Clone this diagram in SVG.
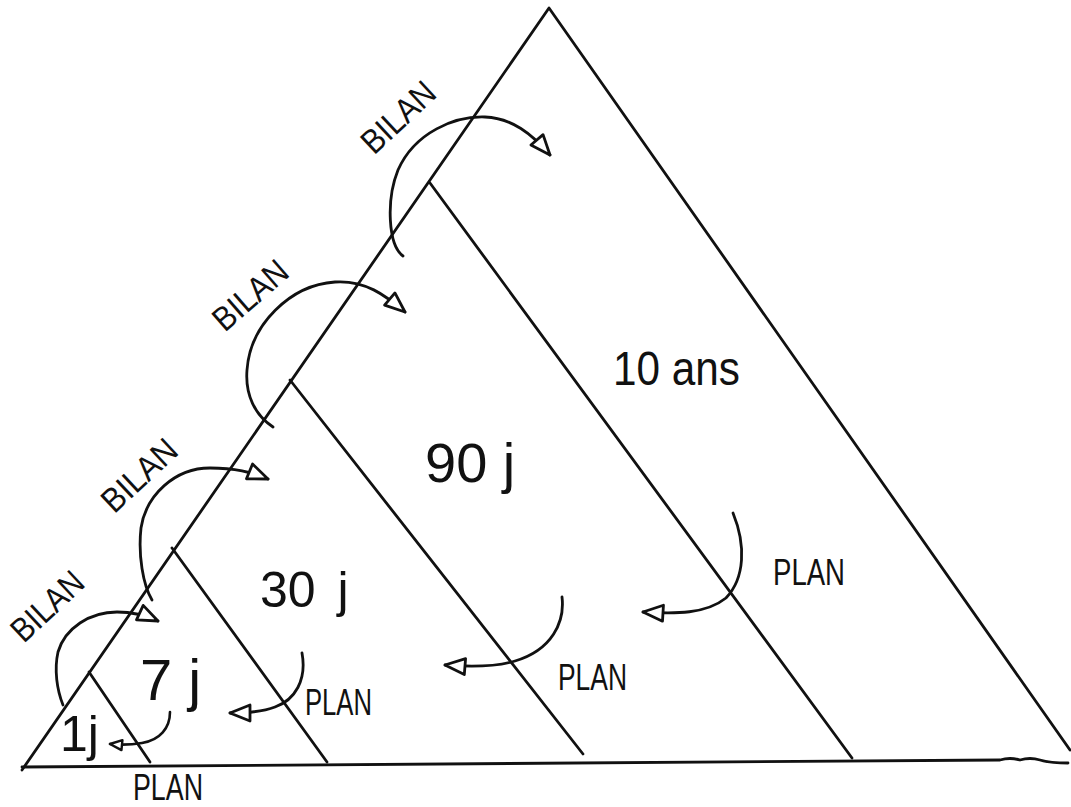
<svg xmlns="http://www.w3.org/2000/svg" width="1071" height="807" viewBox="0 0 1071 807">
<style>
.ln{fill:none;stroke:#111;stroke-width:2.8;stroke-linecap:round;stroke-linejoin:round}
.ar{fill:none;stroke:#111;stroke-width:2.8;stroke-linecap:round;marker-end:url(#head)}
.ars{fill:none;stroke:#111;stroke-width:2.6;stroke-linecap:round;marker-end:url(#heads)}
.t{font-family:"Liberation Sans",Arial,sans-serif;fill:#111}
.lbl{font-size:34px}
.big{font-size:48px}
</style>
<defs>
<marker id="head" markerUnits="userSpaceOnUse" viewBox="0 0 24 20" refX="22" refY="10" markerWidth="24" markerHeight="20" orient="auto">
<path d="M2,2 L22,10 L2,18 Z" fill="#fff" stroke="#111" stroke-width="2.8" stroke-linejoin="round"/>
</marker>
<marker id="heads" markerUnits="userSpaceOnUse" viewBox="0 0 16 14" refX="14" refY="7" markerWidth="16" markerHeight="14" orient="auto">
<path d="M2,2 L14,7 L2,12 Z" fill="#fff" stroke="#111" stroke-width="2.4" stroke-linejoin="round"/>
</marker>
</defs>
<rect width="1071" height="807" fill="#fff"/>

<g id="frame">
<path class="ln" d="M22,770 L549,8 L1070,750"/>
<path class="ln" d="M22,767 L1000,760 Q1010,757 1020,760 Q1030,757 1040,760 Q1050,763 1068,763"/>
</g>

<g id="node-10ans">
<path class="ln" d="M430,183 L852,758"/>
<text class="t big" x="613" y="385" textLength="127" lengthAdjust="spacingAndGlyphs">10 ans</text>
</g>
<g id="node-90j">
<path class="ln" d="M290,380 L583,754"/>
<text class="t" x="425" y="482" font-size="56">90 j</text>
</g>
<g id="node-30j">
<path class="ln" d="M172,548 L327,762"/>
<text class="t" x="260" y="607" font-size="50" word-spacing="8">30 j</text>
</g>
<g id="node-7j">
<path class="ln" d="M89,672 L150,762"/>
<text class="t" x="140" y="700" font-size="58">7 j</text>
</g>
<g id="node-1j">
<text class="t" x="60" y="751" font-size="50">1j</text>
</g>

<g id="labels">
<text class="t lbl" transform="translate(398,117) rotate(-43)" text-anchor="middle" dy="12" textLength="88" lengthAdjust="spacingAndGlyphs">BILAN</text>
<text class="t lbl" transform="translate(250,295) rotate(-41)" text-anchor="middle" dy="12" textLength="88" lengthAdjust="spacingAndGlyphs">BILAN</text>
<text class="t lbl" transform="translate(139,475) rotate(-43)" text-anchor="middle" dy="12" textLength="90" lengthAdjust="spacingAndGlyphs">BILAN</text>
<text class="t lbl" transform="translate(47,606) rotate(-43)" text-anchor="middle" dy="12" textLength="86" lengthAdjust="spacingAndGlyphs">BILAN</text>
<text class="t" x="773" y="585" font-size="37" textLength="72" lengthAdjust="spacingAndGlyphs">PLAN</text>
<text class="t" x="558" y="690" font-size="37" textLength="69" lengthAdjust="spacingAndGlyphs">PLAN</text>
<text class="t" x="305" y="715" font-size="37" textLength="67" lengthAdjust="spacingAndGlyphs">PLAN</text>
<text class="t" x="133" y="800" font-size="36" textLength="70" lengthAdjust="spacingAndGlyphs">PLAN</text>
</g>

<g id="connectors">
<path class="ar" d="M403,256 C388,245 386,200 398,170 C415,132 455,116 485,117 C512,118 532,134 550,155"/>
<path class="ar" d="M273,427 C255,415 245,395 247,370 C250,325 290,285 335,282 C365,280 385,295 405,312"/>
<path class="ar" d="M152,600 C143,585 138,555 141,528 C146,495 175,468 210,468 C235,468 251,472 268,479"/>
<path class="ar" d="M63,705 C57,690 54,670 58,652 C65,628 90,612 117,612 C133,612 145,615 158,621"/>
<path class="ar" d="M733,513 C746,545 745,578 726,598 C706,614 676,614 643,612"/>
<path class="ar" d="M562,597 C565,622 552,650 515,661 C495,667 470,667 445,665"/>
<path class="ar" d="M302,653 C307,680 295,700 275,707 C262,712 248,713 230,713"/>
<path class="ars" d="M170,712 C170,728 160,740 142,743 C130,745 120,745 110,744"/>
</g>
</svg>
